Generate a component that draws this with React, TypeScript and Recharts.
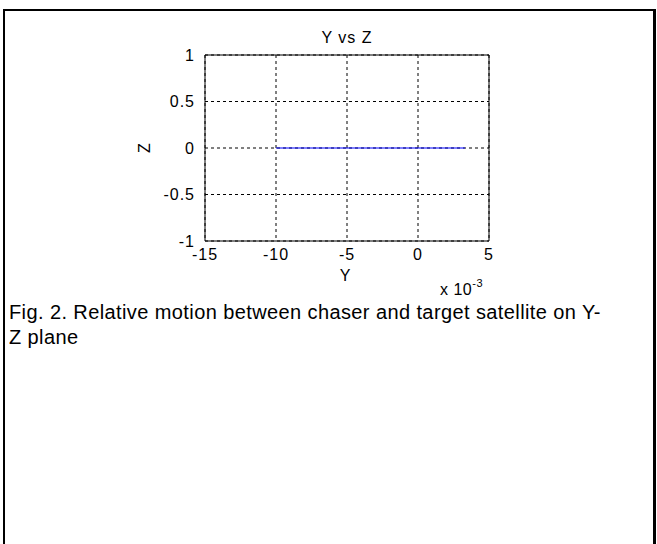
import { LineChart, Line, XAxis, YAxis, CartesianGrid, ReferenceLine } from 'recharts';

// Y in units of 1e-3, Z
const yValues = [-10, 3.3];
const zValues = [0, 0];
const xTicks = [-15, -10, -5, 0, 5];
const yTicks = [-1, -0.5, 0, 0.5, 1];

const data = yValues.map((y, i) => ({ y, z: zValues[i] }));

const font = '"Liberation Sans", Arial, sans-serif';
const tickStyle = { fill: '#000', fontSize: 16, fontFamily: font, letterSpacing: 1 };

export default function App() {
    return (
        <div
            style={{
                position: 'absolute',
                left: 0,
                top: 0,
                width: 657,
                height: 544,
                background: '#fff',
                fontFamily: font,
                color: '#000',
            }}
        >
            <div
                style={{
                    position: 'absolute',
                    left: 3,
                    top: 9,
                    width: 648,
                    height: 540,
                    borderTop: '2px solid #000',
                    borderLeft: '2px solid #000',
                    borderRight: '3px solid #000',
                }}
            />
            <LineChart
                width={657}
                height={300}
                data={data}
                margin={{ top: 55, right: 168, left: 155, bottom: 29 }}
                style={{ position: 'absolute', left: 0, top: 0 }}
            >
                <CartesianGrid stroke="#000" strokeDasharray="3 3" />
                <XAxis
                    dataKey="y"
                    type="number"
                    domain={[-15, 5]}
                    ticks={xTicks}
                    axisLine={{ stroke: '#000' }}
                    tickLine={false}
                    tick={tickStyle}
                    tickMargin={2}
                    height={30}
                />
                <YAxis
                    type="number"
                    domain={[-1, 1]}
                    ticks={yTicks}
                    axisLine={{ stroke: '#000' }}
                    tickLine={false}
                    tick={tickStyle}
                    tickMargin={4}
                    width={50}
                />
                <ReferenceLine y={1} stroke="#000" />
                <ReferenceLine x={5} stroke="#000" />
                <Line
                    dataKey="z"
                    stroke="#0000ff"
                    strokeWidth={1}
                    dot={false}
                    isAnimationActive={false}
                />
            </LineChart>
            <div style={{ position: 'absolute', left: 0, top: 29, width: 694, textAlign: 'center', fontSize: 16, letterSpacing: 1 }}>
                Y vs Z
            </div>
            <div style={{ position: 'absolute', left: 0, top: 267, width: 690, textAlign: 'center', fontSize: 16 }}>
                Y
            </div>
            <div style={{ position: 'absolute', left: 440, top: 281, fontSize: 16, letterSpacing: 0.5 }}>
                x 10<span style={{ fontSize: 11, position: 'relative', top: -8 }}>-3</span>
            </div>
            <div
                style={{
                    position: 'absolute',
                    left: 140,
                    top: 139,
                    fontSize: 16,
                    transform: 'rotate(-90deg)',
                }}
            >
                Z
            </div>
            <div
                style={{
                    position: 'absolute',
                    left: 9,
                    top: 300,
                    width: 640,
                    fontSize: 20,
                    lineHeight: '25px',
                    letterSpacing: 0.4,
                }}
            >
                Fig. 2. Relative motion between chaser and target satellite on Y-
                <br />Z plane
            </div>
        </div>
    );
}
